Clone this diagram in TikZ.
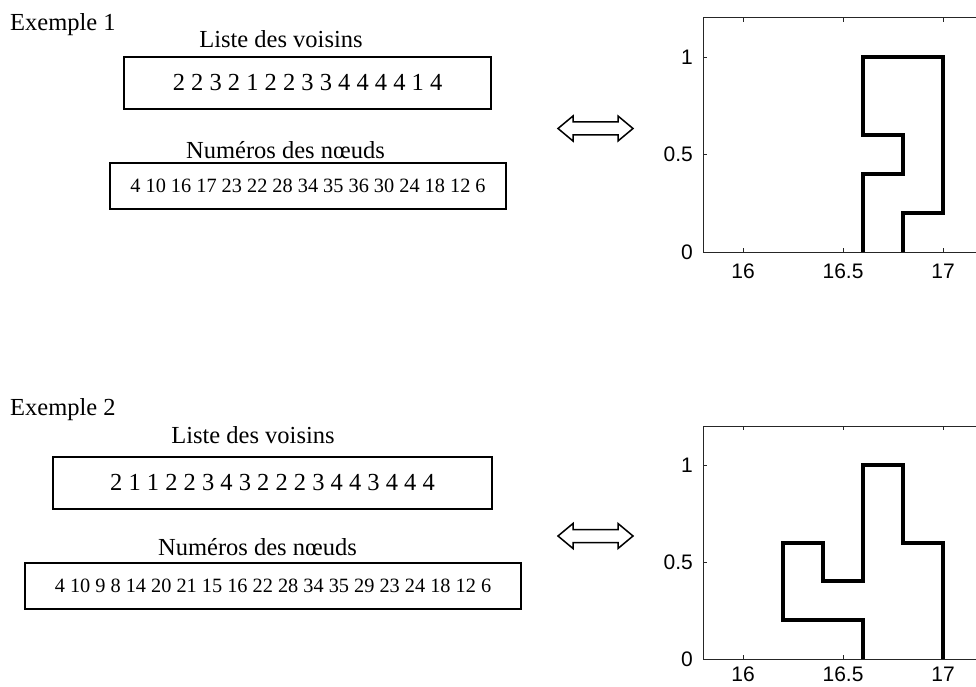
\documentclass[tikz,border=0pt]{standalone}
\usepackage{fontspec}
\setmainfont{Liberation Serif}
\newfontfamily\axfont{Liberation Sans}
\begin{document}
\begin{tikzpicture}[x=1pt,y=-1pt,
  title/.style={inner sep=0pt,anchor=base,font=\fontsize{24.5}{28}\selectfont},
  bigbox/.style={draw,line width=1.3pt,inner sep=0pt,minimum height=52pt,font=\fontsize{24.5}{28}\selectfont},
  smallbox/.style={draw,line width=1.3pt,inner sep=0pt,minimum height=46pt,font=\fontsize{20.3}{24}\selectfont},
  axisline/.style={line width=1pt,draw=black!85},
  tickmark/.style={line width=0.8pt,draw=black!85},
  ticklab/.style={inner sep=0pt,font=\axfont\fontsize{21}{24}\selectfont},
  curve/.style={line width=4pt,line join=miter},
  dblarrow/.style={line width=1.5pt,line join=miter}]
\clip (0,0) rectangle (976,687);

% ---------- Exemple 1 ----------
\node[title,anchor=base west] (ex1) at (10,31) {Exemple 1};
\node[title] (lv1) at (281,48) {Liste des voisins};
\node[bigbox,minimum width=367pt] (b1) at (307.5,83) {2 2 3 2 1 2 2 3 3 4 4 4 4 1 4};
\node[title] (nn1) at (285.5,159) {Numéros des nœuds};
\node[smallbox,minimum width=396pt] (b2) at (308,186) {4 10 16 17 23 22 28 34 35 36 30 24 18 12 6};

\draw[dblarrow] (558,128.5) -- (573,116) -- (573,122) -- (618,122) -- (618,116) -- (633,128.5)
  -- (618,141) -- (618,135) -- (573,135) -- (573,141) -- cycle;

% ---------- Exemple 2 ----------
\node[title,anchor=base west] (ex2) at (10,415) {Exemple 2};
\node[title] (lv2) at (253,443) {Liste des voisins};
\node[bigbox,minimum width=439pt] (b3) at (272.5,483) {2 1 1 2 2 3 4 3 2 2 2 3 4 4 3 4 4 4};
\node[title] (nn2) at (257.5,555) {Numéros des nœuds};
\node[smallbox,minimum width=496pt] (b4) at (273,586) {4 10 9 8 14 20 21 15 16 22 28 34 35 29 23 24 18 12 6};

\draw[dblarrow] (558,536) -- (573,523.5) -- (573,529.5) -- (618,529.5) -- (618,523.5) -- (633,536)
  -- (618,548.5) -- (618,542.5) -- (573,542.5) -- (573,548.5) -- cycle;

% ---------- Plot 1 ----------
\begin{scope}[shift={(-2457,252)},x=200pt,y=195pt]
  \draw[axisline] (15.8,1.2) -- (15.8,0) -- (17.4,0);
  \draw[axisline] (15.8,1.2) -- (17.4,1.2);
  \foreach \xv in {16,16.5,17} {
    \draw[tickmark] (\xv,0) -- ++(0,0.02);
    \draw[tickmark] (\xv,1.2) -- ++(0,-0.02);
    \node[ticklab,anchor=base] (p1x\xv) at ([yshift=-26pt]\xv,0) {\xv};
  }
  \foreach \yv in {0,0.5,1} {
    \draw[tickmark] (15.8,\yv) -- ++(0.02,0);
    \node[ticklab,anchor=east] (p1y\yv) at ([xshift=-10pt]15.8,\yv) {\yv};
  }
  \draw[curve] (16.6,0) -- (16.6,0.4) -- (16.8,0.4) -- (16.8,0.6) -- (16.6,0.6) -- (16.6,1)
    -- (17,1) -- (17,0.2) -- (16.8,0.2) -- (16.8,0);
\end{scope}

% ---------- Plot 2 ----------
\begin{scope}[shift={(-2457,659)},x=200pt,y=194pt]
  \draw[axisline] (15.8,1.2) -- (15.8,0) -- (17.4,0);
  \draw[axisline] (15.8,1.2) -- (17.4,1.2);
  \foreach \xv in {16,16.5,17} {
    \draw[tickmark] (\xv,0) -- ++(0,0.02);
    \draw[tickmark] (\xv,1.2) -- ++(0,-0.02);
    \node[ticklab,anchor=base] (p2x\xv) at ([yshift=-22.5pt]\xv,0) {\xv};
  }
  \foreach \yv in {0,0.5,1} {
    \draw[tickmark] (15.8,\yv) -- ++(0.02,0);
    \node[ticklab,anchor=east] (p2y\yv) at ([xshift=-10pt]15.8,\yv) {\yv};
  }
  \draw[curve] (16.6,0) -- (16.6,0.2) -- (16.2,0.2) -- (16.2,0.6) -- (16.4,0.6) -- (16.4,0.4)
    -- (16.6,0.4) -- (16.6,1) -- (16.8,1) -- (16.8,0.6) -- (17,0.6) -- (17,0);
\end{scope}
\end{tikzpicture}
\end{document}
